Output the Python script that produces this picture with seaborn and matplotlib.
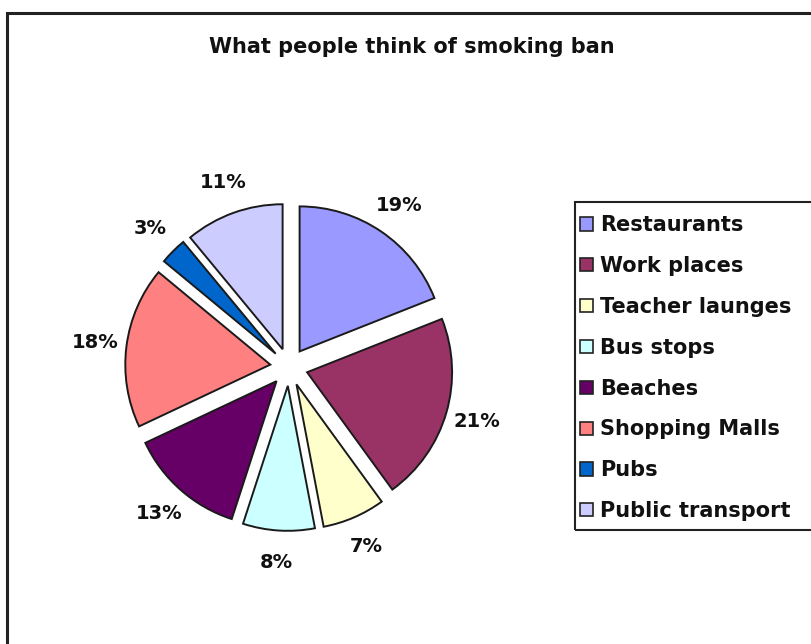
import matplotlib
matplotlib.use("Agg")
import matplotlib.pyplot as plt
import seaborn as sns
from matplotlib.patches import Rectangle, Patch

categories = ["Restaurants", "Work places", "Teacher launges", "Bus stops",
              "Beaches", "Shopping Malls", "Pubs", "Public transport"]
values = [19, 21, 7, 8, 13, 18, 3, 11]
colors = ["#9999FF", "#993366", "#FFFFCC", "#CCFFFF",
          "#660066", "#FF8080", "#0066CC", "#CCCCFF"]
title = "What people think of smoking ban"

sns.set_theme(style="white")
plt.rcParams['font.family'] = ['DejaVu Sans']
palette = sns.color_palette(colors)

W, H = 811, 644
fig = plt.figure(figsize=(W / 100, H / 100), dpi=100)
fig.patch.set_facecolor("white")

# chart area border (extends past right/bottom edges)
fig.patches.append(Rectangle((7 / W, -0.1), 1.2, 1 - 13 / H + 0.1,
                             transform=fig.transFigure, fill=False,
                             edgecolor="#222222", linewidth=2.2))

cx, cy, R = 289, 367, 145
side = 3 * R
ax = fig.add_axes([(cx - side / 2) / W, (H - cy - side / 2) / H, side / W, side / H])

wedges, texts, autotexts = ax.pie(
    values, colors=palette, startangle=90, counterclock=False,
    explode=[0.13] * len(values), radius=1.0,
    autopct=lambda p: f"{p:.0f}%", pctdistance=1.22,
    wedgeprops=dict(edgecolor="#1a1a1a", linewidth=1.4),
    textprops=dict(fontsize=14, fontweight="bold", color="#111111"))
ax.set_xlim(-1.5, 1.5)
ax.set_ylim(-1.5, 1.5)
ax.set_aspect("equal")
ax.axis("off")

fig.text(412 / W, 1 - 47 / H, title, ha="center", va="center",
         fontsize=15, fontweight="bold", color="#111111")

# legend frame
fig.patches.append(Rectangle((575 / W, 1 - 530 / H), 1.0, (530 - 202) / H,
                             transform=fig.transFigure, fill=False,
                             edgecolor="#222222", linewidth=1.5))
handles = [Patch(facecolor=c, edgecolor="#222222", linewidth=1.2) for c in palette]
leg = fig.legend(handles, categories, loc="upper left",
                 bbox_to_anchor=(572 / W, 1 - 207 / H), frameon=False,
                 prop=dict(size=15, weight="bold"), handlelength=0.6,
                 handleheight=0.6, handletextpad=0.35, labelspacing=1.0,
                 borderaxespad=0)
for t in leg.get_texts():
    t.set_color("#111111")

fig.savefig("out.png", dpi=100, facecolor="white")
